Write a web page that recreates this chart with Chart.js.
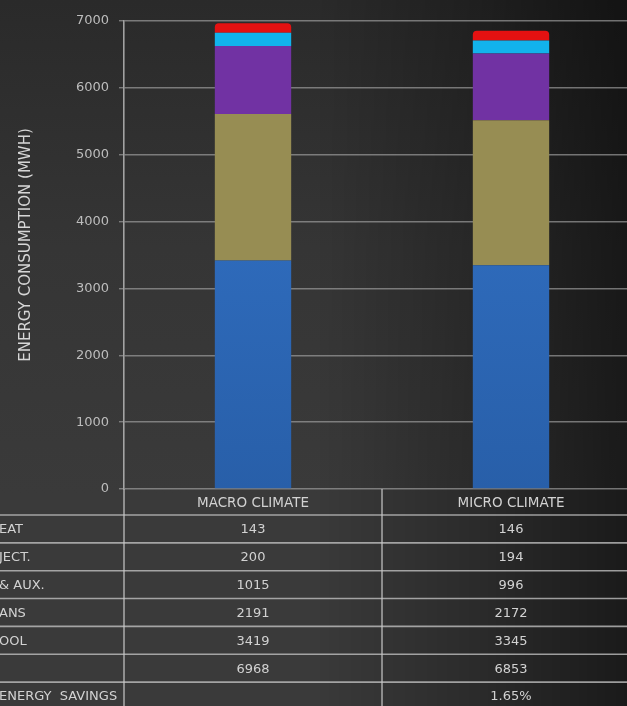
<!DOCTYPE html>
<html>
<head>
<meta charset="utf-8">
<script src="https://cdn.jsdelivr.net/npm/chart.js@4/dist/chart.umd.min.js"></script>
<style>
  html, body { margin: 0; padding: 0; width: 627px; height: 706px; overflow: hidden; }
  body {
    background:
      linear-gradient(to right, rgba(0,0,0,0) 0%, rgba(0,0,0,0) 50%, rgba(0,0,0,0.25) 75%, rgba(0,0,0,0.55) 100%),
      linear-gradient(to bottom, #2a2a2a 0%, #353535 35%, #3a3a3a 70%, #3a3a3a 100%);
  }
  #wrap { position: absolute; left: 0; top: 0; width: 640px; height: 706px; }
</style>
</head>
<body>
<div id="wrap"><canvas id="chart" width="640" height="706"></canvas></div>
<script>
// Scenarios compared
const categories = ['MACRO CLIMATE', 'MICRO CLIMATE'];

// Energy consumption by end use (MWh)
const heat     = [143, 146];
const reject   = [200, 194];
const pumpsAux = [1015, 996];
const fans     = [2191, 2172];
const cool     = [3419, 3345];

// Row headers of the data table (left column)
const rowLabels = ['EAT', 'JECT.', '& AUX.', 'ANS', 'OOL', '', 'ENERGY  SAVINGS'];

// Y axis ticks and title
const yTicks = [0, 1000, 2000, 3000, 4000, 5000, 6000, 7000];
const yTitle = 'ENERGY CONSUMPTION (MWH)';

const totals = categories.map((_, i) => heat[i] + reject[i] + pumpsAux[i] + fans[i] + cool[i]);
const savings = ['', ((totals[0] - totals[1]) / totals[0] * 100).toFixed(2) + '%'];

const tableRows = [
  heat.map(String), reject.map(String), pumpsAux.map(String),
  fans.map(String), cool.map(String), totals.map(String), savings
];

const FONT = 'DejaVu Sans';

function blueFill(context) {
  const chart = context.chart;
  const area = chart.chartArea;
  if (!area) return '#2f6fc2';
  const g = chart.ctx.createLinearGradient(0, area.top, 0, area.bottom);
  g.addColorStop(0, '#3475cb');
  g.addColorStop(1, '#285fa9');
  return g;
}

// Data table drawn under the plot, columns aligned with the category scale;
// the rotated y-axis title is drawn here as well
const dataTable = {
  id: 'dataTable',
  afterDraw(chart) {
    const { ctx, chartArea, scales } = chart;
    const x = scales.x;
    const top = chartArea.bottom;
    const headerH = 26;
    const rowH = 27.85;
    const W = chart.width;
    const divider = (x.getPixelForValue(0) + x.getPixelForValue(1)) / 2;

    ctx.save();
    ctx.strokeStyle = 'rgba(200,200,200,0.75)';
    ctx.lineWidth = 1.6;

    // horizontal rules
    for (let r = 0; r <= tableRows.length; r++) {
      const y = top + headerH + r * rowH;
      ctx.beginPath();
      ctx.moveTo(0, y);
      ctx.lineTo(W, y);
      ctx.stroke();
    }
    // vertical rules
    ctx.beginPath();
    ctx.moveTo(chartArea.left, top);
    ctx.lineTo(chartArea.left, chart.height);
    ctx.moveTo(divider, top);
    ctx.lineTo(divider, chart.height);
    ctx.stroke();

    ctx.fillStyle = '#d2d2d2';
    ctx.textBaseline = 'middle';
    ctx.font = '13.5px "' + FONT + '"';

    // header row
    ctx.textAlign = 'center';
    categories.forEach((c, i) => {
      ctx.fillText(c, x.getPixelForValue(i), top + headerH / 2 + 1);
    });

    // body rows
    ctx.font = '13px "' + FONT + '"';
    tableRows.forEach((vals, r) => {
      const yc = top + headerH + r * rowH + rowH / 2 + 1;
      ctx.textAlign = 'left';
      ctx.fillText(rowLabels[r], -1, yc);
      ctx.textAlign = 'center';
      vals.forEach((v, i) => ctx.fillText(v, x.getPixelForValue(i), yc));
    });

    // y-axis title
    const yMid = scales.y.getPixelForValue(3650);
    ctx.translate(26, yMid);
    ctx.rotate(-Math.PI / 2);
    ctx.fillStyle = '#d6d6d6';
    ctx.font = '15px "' + FONT + '"';
    ctx.textAlign = 'center';
    ctx.fillText(yTitle, 0, 0);
    ctx.restore();
  }
};

const barPct = 0.296;

new Chart(document.getElementById('chart'), {
  type: 'bar',
  data: {
    labels: categories,
    datasets: [
      { label: 'COOL', data: cool, backgroundColor: blueFill },
      { label: 'FANS', data: fans, backgroundColor: '#978d53' },
      { label: 'PUMPS & AUX.', data: pumpsAux, backgroundColor: '#7132a3' },
      { label: 'REJECT.', data: reject, backgroundColor: '#12b3ec' },
      { label: 'HEAT', data: heat, backgroundColor: '#e41111',
        borderRadius: { topLeft: 4, topRight: 4, bottomLeft: 0, bottomRight: 0 }, borderSkipped: false }
    ].map(d => Object.assign({ barPercentage: barPct, categoryPercentage: 1, borderWidth: 0 }, d))
  },
  options: {
    responsive: false,
    devicePixelRatio: 1,
    animation: false,
    layout: { padding: { top: 21, right: 0, bottom: 217, left: 0 } },
    plugins: { legend: { display: false }, tooltip: { enabled: false } },
    scales: {
      x: {
        stacked: true,
        display: false,
        offset: true
      },
      y: {
        stacked: true,
        min: 0,
        max: 7000,
        afterBuildTicks(scale) { scale.ticks = yTicks.map(v => ({ value: v })); },
        afterFit(scale) { scale.width = 124; },
        ticks: {
          color: '#bdbdbd',
          padding: 10,
          font: { family: FONT, size: 13 },
          callback: v => String(v)
        },
        grid: {
          color: 'rgba(165,165,165,0.65)',
          lineWidth: 1.4,
          tickLength: 5,
          drawTicks: true
        },
        border: { display: true, color: 'rgba(200,200,200,0.75)', width: 1.6 },
        title: { display: false }
      }
    }
  },
  plugins: [dataTable]
});
</script>
</body>
</html>
